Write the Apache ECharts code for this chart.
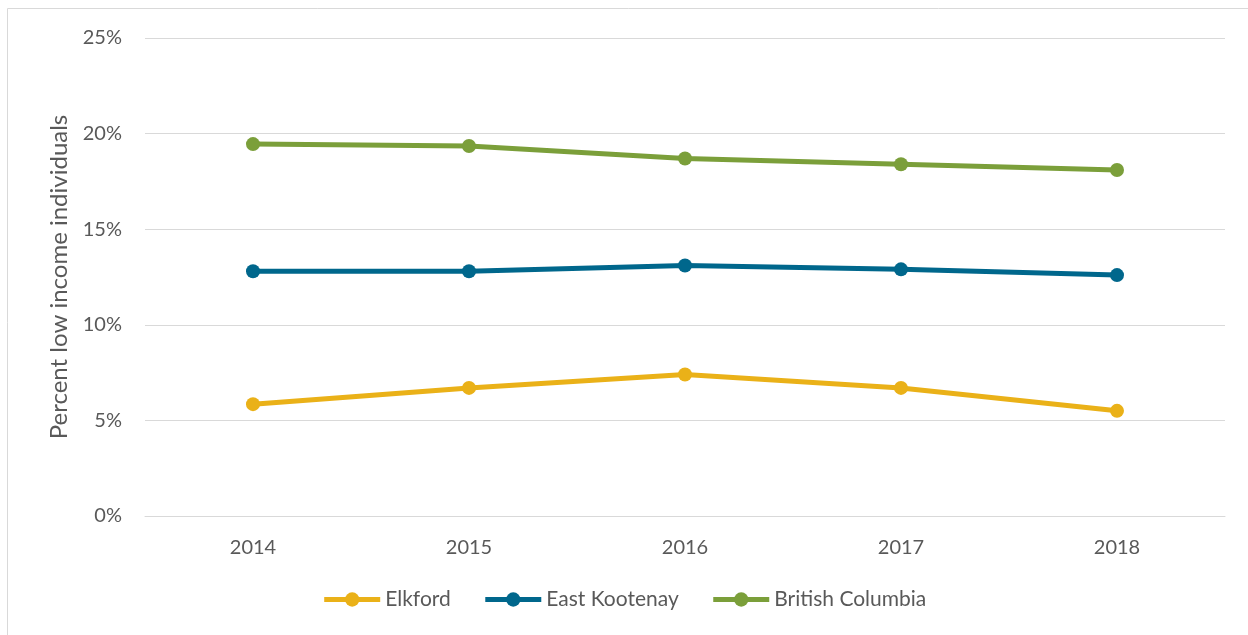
<!DOCTYPE html>
<html><head><meta charset="utf-8">
<script src="https://cdn.jsdelivr.net/npm/echarts@6/dist/echarts.min.js"></script>
<style>html,body{margin:0;padding:0;background:#fff}#c{width:1248px;height:635px}</style>
</head><body><div id="c"></div>
<script>
const years = ['2014','2015','2016','2017','2018'];
const elkford = [5.85, 6.7, 7.4, 6.7, 5.5];
const eastKootenay = [12.8, 12.8, 13.1, 12.9, 12.6];
const britishColumbia = [19.45, 19.35, 18.7, 18.4, 18.1];
const yTicks = [0, 5, 10, 15, 20, 25];

const font = 'Lato, "Open Sans", sans-serif';
const chart = echarts.init(document.getElementById('c'));
function s(name, data, color) {
  return {
    name, type: 'line', data, symbol: 'circle', symbolSize: 14,
    lineStyle: {width: 5, color}, itemStyle: {color}, emphasis: {disabled: true}
  };
}
chart.setOption({
  animation: false,
  graphic: [{type: 'rect', shape: {x: 7.5, y: 8.5, width: 1300, height: 700},
    style: {fill: 'none', stroke: '#d9d9d9', lineWidth: 1}}],
  grid: {left: 145, right: 23, top: 38, bottom: 119},
  xAxis: {
    type: 'category', data: years, boundaryGap: true,
    axisLine: {lineStyle: {color: '#d9d9d9', width: 1}},
    axisTick: {show: false},
    axisLabel: {color: '#595959', fontSize: 20, fontFamily: font, margin: 22}
  },
  yAxis: {
    type: 'value', min: 0, max: 25, interval: 5,
    name: 'Percent low income individuals', nameLocation: 'middle', nameGap: 74,
    nameTextStyle: {color: '#595959', fontSize: 24, fontFamily: font},
    axisLine: {show: false}, axisTick: {show: false},
    axisLabel: {color: '#595959', fontSize: 20, fontFamily: font, margin: 23,
      formatter: v => yTicks.includes(v) ? v + '%' : ''},
    splitLine: {lineStyle: {color: '#d9d9d9', width: 1}}
  },
  legend: {
    bottom: 20, left: 'center', itemWidth: 56, itemHeight: 18, itemGap: 32,
    lineStyle: {width: 5},
    textStyle: {color: '#595959', fontSize: 21, fontFamily: font},
    data: ['Elkford', 'East Kootenay', 'British Columbia']
  },
  series: [
    s('Elkford', elkford, '#EAB118'),
    s('East Kootenay', eastKootenay, '#00678C'),
    s('British Columbia', britishColumbia, '#7B9F3A')
  ]
});
</script></body></html>
